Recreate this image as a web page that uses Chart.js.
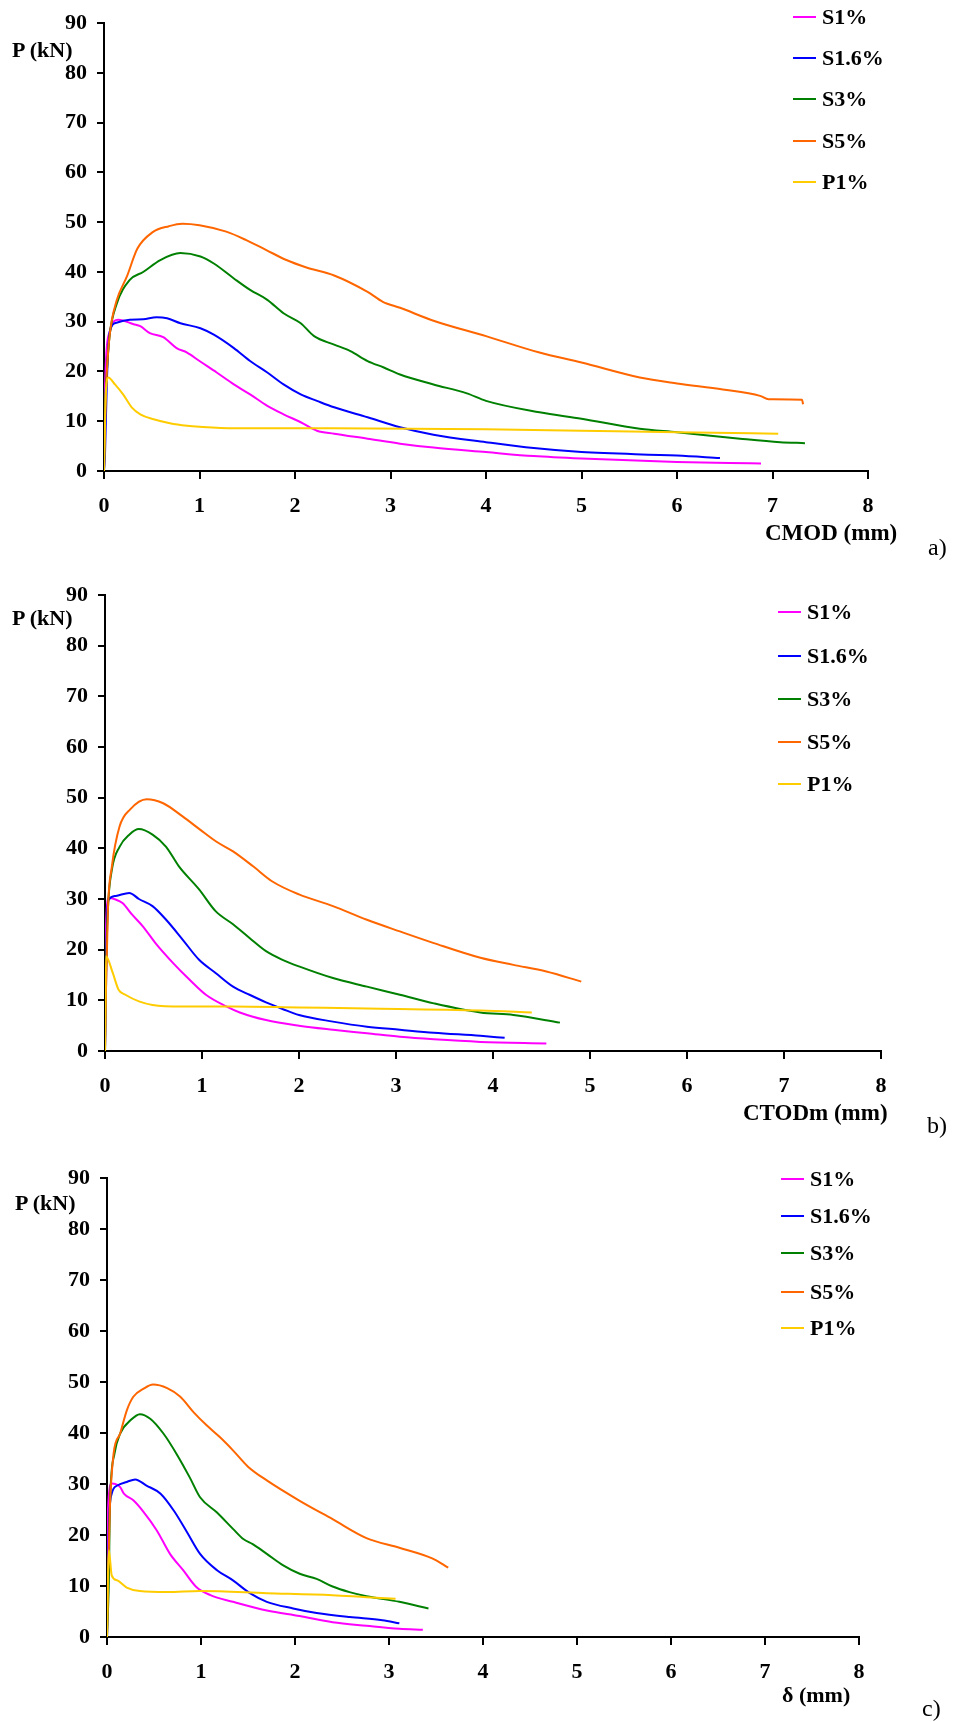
<!DOCTYPE html>
<html>
<head>
<meta charset="utf-8">
<script src="https://cdn.jsdelivr.net/npm/chart.js@4.4.1/dist/chart.umd.min.js"></script>
<style>
  body { margin: 0; background: #fff; width: 956px; height: 1722px; position: relative; overflow: hidden;
         font-family: 'Liberation Serif', 'Times New Roman', serif; color: #000; }
  canvas { position: absolute; left: 0; }
  .lbl { position: absolute; font-weight: bold; font-size: 22px; line-height: 22px; white-space: nowrap; }
  .tag { position: absolute; font-size: 24px; line-height: 24px; }
  .leg { position: absolute; font-weight: bold; font-size: 22px; line-height: 22px; white-space: nowrap; }
  .leg i { position: absolute; left: -29px; top: 10px; width: 23px; height: 2px; }
</style>
</head>
<body>
<canvas id="chartA" width="956" height="521" style="top:0px"></canvas>
<canvas id="chartB" width="956" height="541" style="top:560px"></canvas>
<canvas id="chartC" width="956" height="537" style="top:1150px"></canvas>

<div class="lbl" style="left:12px;top:39px">P (kN)</div>
<div class="lbl" style="left:765px;top:522px;font-size:23px">CMOD (mm)</div>
<div class="tag" style="left:928px;top:535px">a)</div>

<div class="lbl" style="left:12px;top:607px">P (kN)</div>
<div class="lbl" style="left:743px;top:1102px;font-size:23px">CTODm (mm)</div>
<div class="tag" style="left:927px;top:1113px">b)</div>

<div class="lbl" style="left:15px;top:1192px">P (kN)</div>
<div class="lbl" style="left:782px;top:1684px">δ (mm)</div>
<div class="tag" style="left:922px;top:1696px">c)</div>

<script>
// series
const seriesNames = ['S1%', 'S1.6%', 'S3%', 'S5%', 'P1%'];
const seriesColors = ['#ff00ff', '#0000ff', '#008000', '#ff6600', '#ffcc00'];

// tick labels
const xTicks = [0, 1, 2, 3, 4, 5, 6, 7, 8];
const yTicks = [0, 10, 20, 30, 40, 50, 60, 70, 80, 90];

// a) P vs CMOD (mm, kN)
const cmodS1 = [[0,0],[0.005,11],[0.02,22],[0.06,28],[0.15,30.4],[0.31,29.5],[0.38,29.1],[0.48,27.7],[0.62,26.9],[0.76,24.7],[0.87,23.8],[1.0,22.1],[1.18,19.8],[1.36,17.4],[1.53,15.4],[1.71,13.1],[1.88,11.4],[2.06,9.8],[2.23,8.1],[2.41,7.5],[2.76,6.5],[3.1,5.5],[3.45,4.7],[4.0,3.8],[4.5,3.0],[5.0,2.5],[6.0,1.8],[6.55,1.6],[6.88,1.5]];
const cmodS16 = [[0,0],[0.01,3],[0.03,18],[0.06,28],[0.13,29.8],[0.27,30.4],[0.41,30.5],[0.55,30.9],[0.66,30.7],[0.8,29.7],[1.01,28.7],[1.15,27.4],[1.36,24.7],[1.53,22.1],[1.71,19.8],[1.88,17.4],[2.06,15.4],[2.23,14.1],[2.41,12.8],[2.76,10.8],[3.1,8.8],[3.45,7.3],[4.0,5.8],[4.5,4.6],[5.0,3.8],[6.0,3.1],[6.45,2.6]];
const cmodS3 = [[0,0],[0.01,12],[0.03,20],[0.06,27.4],[0.13,33.4],[0.27,38.4],[0.41,40.0],[0.59,42.4],[0.8,43.8],[1.01,43.1],[1.15,41.7],[1.36,38.7],[1.53,36.4],[1.71,34.4],[1.88,31.7],[2.06,29.7],[2.2,27.1],[2.41,25.4],[2.58,24.1],[2.76,22.1],[2.93,20.8],[3.1,19.4],[3.45,17.4],[3.8,15.6],[4.0,14.1],[4.56,11.8],[5.0,10.5],[5.61,8.5],[6.0,7.8],[6.66,6.5],[7.08,5.8],[7.34,5.6]];
const cmodS5 = [[0,0],[0.01,9.5],[0.03,20],[0.06,27.4],[0.13,34.1],[0.24,39.1],[0.35,44.7],[0.51,48.0],[0.68,49.2],[0.82,49.7],[1.0,49.4],[1.28,48.1],[1.49,46.4],[1.7,44.4],[1.91,42.4],[2.12,40.9],[2.41,39.3],[2.76,36.0],[2.92,34.0],[3.1,32.8],[3.45,30.2],[4.0,27.1],[4.56,23.8],[5.0,21.8],[5.61,18.8],[6.0,17.6],[6.48,16.4],[6.87,15.1],[6.96,14.4],[7.31,14.3],[7.32,13.4]];
const cmodP1 = [[0,0],[0.02,16],[0.045,18.8],[0.115,17.4],[0.2,15.4],[0.29,12.8],[0.38,11.4],[0.52,10.4],[0.69,9.6],[0.87,9.1],[1.0,8.9],[1.36,8.6],[2.4,8.6],[4.0,8.4],[5.0,8.1],[6.0,7.8],[7.06,7.5]];

// b) P vs CTODm
const ctodS1 = [[0,0],[0.005,12],[0.01,24.6],[0.04,30.2],[0.11,29.9],[0.18,29.2],[0.28,26.9],[0.39,24.6],[0.52,21.3],[0.7,17.4],[0.87,14.1],[1.04,11.1],[1.25,8.8],[1.39,7.6],[1.66,6.1],[2.0,5.0],[2.35,4.2],[2.7,3.5],[3.04,2.8],[3.39,2.3],[3.87,1.8],[4.55,1.5]];
const ctodS16 = [[0,0],[0.01,12],[0.02,25.9],[0.04,29.9],[0.11,30.6],[0.25,31.2],[0.35,30.0],[0.49,28.6],[0.63,25.9],[0.8,22.0],[0.97,18.0],[1.14,15.4],[1.32,12.7],[1.49,11.1],[1.66,9.6],[1.83,8.3],[2.0,7.1],[2.35,5.8],[2.7,4.8],[3.04,4.2],[3.39,3.6],[3.87,3.0],[4.12,2.6]];
const ctodS3 = [[0,0],[0.01,15],[0.03,28],[0.07,35.7],[0.15,40.3],[0.25,42.7],[0.35,43.8],[0.49,42.7],[0.63,40.3],[0.76,36.5],[0.97,31.9],[1.14,27.6],[1.32,25.0],[1.49,22.3],[1.66,19.7],[1.83,18.0],[2.0,16.7],[2.35,14.4],[2.7,12.7],[3.04,11.1],[3.39,9.4],[3.87,7.6],[4.21,7.1],[4.69,5.6]];
const ctodS5 = [[0,0],[0.01,12],[0.03,28],[0.07,36.3],[0.15,44.3],[0.26,47.7],[0.43,49.7],[0.6,48.9],[0.8,46.3],[0.98,43.7],[1.15,41.3],[1.32,39.4],[1.53,36.4],[1.73,33.4],[2.0,30.9],[2.35,28.6],[2.7,25.9],[3.04,23.6],[3.39,21.3],[3.87,18.4],[4.21,17.0],[4.55,15.7],[4.91,13.7]];
const ctodP1 = [[0,0],[0.01,18.7],[0.08,15.4],[0.14,12.1],[0.21,11.1],[0.35,9.8],[0.49,9.1],[0.8,8.8],[1.32,8.8],[2.0,8.6],[2.7,8.4],[3.87,8.0],[4.4,7.6]];

// c) P vs deflection
const deflS1 = [[0,0],[0.005,12],[0.01,24.8],[0.05,30.1],[0.14,29.4],[0.18,28.1],[0.28,26.8],[0.39,24.5],[0.53,20.9],[0.67,16.3],[0.81,13.1],[0.95,9.8],[1.1,8.2],[1.34,6.9],[1.7,5.2],[2.05,4.1],[2.4,2.9],[2.76,2.2],[3.11,1.6],[3.36,1.4]];
const deflS16 = [[0,0],[0.01,10],[0.02,21.6],[0.05,28.1],[0.11,29.7],[0.21,30.4],[0.3,30.9],[0.42,29.7],[0.57,28.1],[0.71,24.8],[0.85,20.6],[0.99,16.3],[1.17,13.1],[1.34,11.1],[1.52,8.6],[1.7,6.9],[1.98,5.6],[2.23,4.7],[2.58,3.9],[2.93,3.3],[3.11,2.7]];
const deflS3 = [[0,0],[0.01,5],[0.02,11.4],[0.03,25],[0.08,36],[0.14,39.9],[0.25,42.5],[0.35,43.7],[0.46,42.8],[0.6,39.9],[0.74,35.9],[0.88,31.3],[0.99,27.4],[1.17,24.4],[1.34,21.2],[1.45,19.2],[1.55,18.2],[1.7,16.3],[1.87,14.1],[2.05,12.4],[2.23,11.4],[2.4,9.9],[2.58,8.8],[2.76,8.0],[3.11,6.9],[3.42,5.6]];
const deflS5 = [[0,0],[0.01,10],[0.03,25],[0.07,35.9],[0.14,39.9],[0.21,44.4],[0.28,47.1],[0.39,48.7],[0.49,49.5],[0.64,48.8],[0.78,47.1],[0.92,44.1],[1.06,41.5],[1.2,39.2],[1.34,36.6],[1.5,33.4],[1.7,30.7],[2.05,26.7],[2.4,23.1],[2.76,19.4],[3.11,17.5],[3.46,15.4],[3.63,13.6]];
const deflP1 = [[0,0],[0.01,12],[0.02,17.0],[0.05,12.1],[0.11,11.1],[0.21,9.7],[0.35,9.0],[0.64,8.8],[0.99,9.0],[1.7,8.6],[2.4,8.2],[2.76,7.8],[3.07,7.5]];

const tickFont = { family: "'Liberation Serif', 'Times New Roman', serif", size: 22, weight: 'bold' };

function drawPanel(id, series, canvasTop, area) {
  const ctx = document.getElementById(id).getContext('2d');
  return new Chart(ctx, {
    type: 'line',
    data: {
      datasets: series.map((pts, i) => ({
        label: seriesNames[i],
        data: pts.map(p => ({ x: p[0], y: p[1] })),
        borderColor: seriesColors[i],
        borderWidth: 2,
        pointRadius: 0,
        fill: false,
        cubicInterpolationMode: 'monotone',
        order: -i
      }))
    },
    options: {
      responsive: false,
      animation: false,
      devicePixelRatio: 1,
      layout: { padding: { left: area.left - 60, top: area.top - canvasTop, right: 956 - area.right, bottom: 0 } },
      plugins: { legend: { display: false }, tooltip: { enabled: false } },
      scales: {
        x: {
          type: 'linear', min: 0, max: 8,
          afterBuildTicks: s => { s.ticks = xTicks.map(v => ({ value: v })); },
          afterFit: s => { s.height = 50; },
          ticks: { color: '#000', font: tickFont, padding: 14, maxRotation: 0 },
          grid: { drawOnChartArea: false, drawTicks: true, tickLength: 8, color: '#000', tickColor: '#000', lineWidth: 2 },
          border: { display: true, color: '#000', width: 2 }
        },
        y: {
          type: 'linear', min: 0, max: 90,
          afterBuildTicks: s => { s.ticks = yTicks.map(v => ({ value: v })); },
          afterFit: s => { s.width = 60; },
          ticks: { color: '#000', font: tickFont, padding: 10 },
          grid: { drawOnChartArea: false, drawTicks: true, tickLength: 7, color: '#000', tickColor: '#000', lineWidth: 2 },
          border: { display: true, color: '#000', width: 2 }
        }
      }
    }
  });
}

function drawLegend(left, rows) {
  seriesNames.forEach((name, i) => {
    const d = document.createElement('div');
    d.className = 'leg';
    d.style.left = left + 'px';
    d.style.top = (rows[i] - 11) + 'px';
    const sw = document.createElement('i');
    sw.style.background = seriesColors[i];
    d.appendChild(sw);
    d.appendChild(document.createTextNode(name));
    document.body.appendChild(d);
  });
}

drawPanel('chartA', [cmodS1, cmodS16, cmodS3, cmodS5, cmodP1], 0, { left: 104, top: 19, right: 868, bottom: 471 });
drawPanel('chartB', [ctodS1, ctodS16, ctodS3, ctodS5, ctodP1], 560, { left: 105, top: 595, right: 881, bottom: 1051 });
drawPanel('chartC', [deflS1, deflS16, deflS3, deflS5, deflP1], 1150, { left: 107, top: 1178, right: 859, bottom: 1637 });

drawLegend(822, [17, 58, 99, 141, 182]);
drawLegend(807, [612, 656, 699, 742, 784]);
drawLegend(810, [1179, 1216, 1253, 1292, 1328]);
</script>
</body>
</html>
